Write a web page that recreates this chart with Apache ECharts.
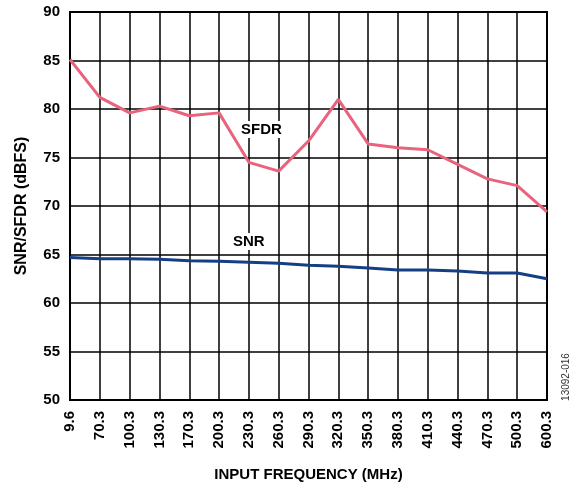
<!DOCTYPE html>
<html>
<head>
<meta charset="utf-8">
<script src="https://cdn.jsdelivr.net/npm/echarts@6/dist/echarts.min.js"></script>
<style>html,body{margin:0;padding:0;background:#fff}#c{width:578px;height:487px}</style>
</head>
<body>
<div id="c"></div>
<script>
var categories = ['9.6','70.3','100.3','130.3','170.3','200.3','230.3','260.3','290.3','320.3','350.3','380.3','410.3','440.3','470.3','500.3','600.3'];
var sfdr = [85.1, 81.2, 79.6, 80.3, 79.3, 79.6, 74.5, 73.6, 76.7, 81.0, 76.4, 76.0, 75.8, 74.3, 72.8, 72.1, 69.4];
var snr = [64.7, 64.55, 64.55, 64.5, 64.35, 64.3, 64.2, 64.1, 63.9, 63.8, 63.6, 63.4, 63.4, 63.3, 63.1, 63.1, 62.5];
var yTicks = [50, 55, 60, 65, 70, 75, 80, 85, 90];

var chart = echarts.init(document.getElementById('c'), null, {renderer: 'canvas'});
var fontFam = 'Liberation Sans, Arial, sans-serif';
chart.setOption({
  animation: false,
  grid: {left: 70, right: 31, top: 12, bottom: 86, show: true, borderColor: '#000', borderWidth: 2, backgroundColor: '#fff'},
  xAxis: {
    type: 'category', data: categories, boundaryGap: false,
    axisLine: {show: true, lineStyle: {color: '#000', width: 2}},
    axisTick: {show: false},
    axisLabel: {rotate: 90, fontSize: 15, fontWeight: 'bold', color: '#000', fontFamily: fontFam, margin: 11, interval: 0},
    splitLine: {show: true, lineStyle: {color: '#000', width: 1.5}},
    name: 'INPUT FREQUENCY (MHz)', nameLocation: 'middle', nameGap: 67,
    nameTextStyle: {fontSize: 15, fontWeight: 'bold', color: '#000', fontFamily: fontFam}
  },
  yAxis: {
    type: 'value', min: yTicks[0], max: yTicks[yTicks.length-1], interval: 5,
    axisLine: {show: true, lineStyle: {color: '#000', width: 2}},
    axisTick: {show: false},
    axisLabel: {fontSize: 15, fontWeight: 'bold', color: '#000', fontFamily: fontFam, margin: 10},
    splitLine: {show: true, lineStyle: {color: '#000', width: 1.5}},
    name: 'SNR/SFDR (dBFS)', nameLocation: 'middle', nameGap: 40,
    nameTextStyle: {fontSize: 16, fontWeight: 'bold', color: '#000', fontFamily: fontFam}
  },
  series: [
    {name: 'SFDR', type: 'line', data: sfdr, symbol: 'none', lineStyle: {color: '#e8637b', width: 3}, z: 3},
    {name: 'SNR', type: 'line', data: snr, symbol: 'none', lineStyle: {color: '#143f84', width: 3}, z: 3}
  ],
  graphic: [
    {type: 'text', left: 239, top: 121, z: 10, style: {text: 'SFDR', font: 'bold 15px ' + fontFam, fill: '#000', backgroundColor: '#fff', padding: [1, 2]}},
    {type: 'text', left: 231, top: 233, z: 10, style: {text: 'SNR', font: 'bold 15px ' + fontFam, fill: '#000', backgroundColor: '#fff', padding: [1, 2]}},
    {type: 'text', x: 566, y: 377, rotation: Math.PI/2, z: 10, style: {text: '13092-016', font: '10px ' + fontFam, fill: '#333', align: 'center', verticalAlign: 'middle'}}
  ]
});
</script>
</body>
</html>
